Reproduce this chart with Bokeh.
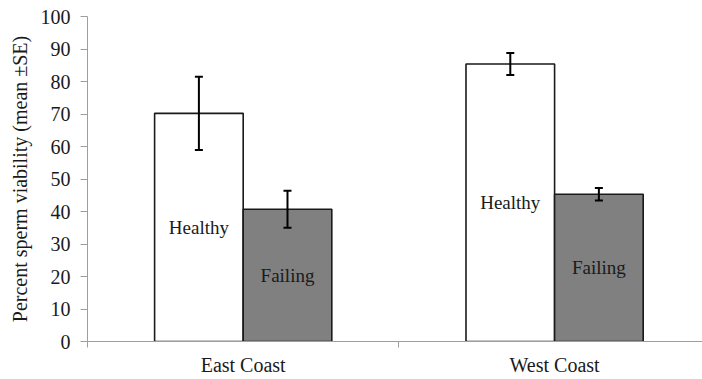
from bokeh.plotting import figure
from bokeh.models import (ColumnDataSource, Range1d, FixedTicker, Whisker, TeeHead)
from bokeh.core.properties import value
from bokeh.embed import file_html
from bokeh.resources import INLINE

# ---- data ----
categories = ["East Coast", "West Coast"]
groups = ["Healthy", "Failing"]
healthy_mean = [70.2, 85.4]
failing_mean = [40.7, 45.3]
healthy_se = [11.3, 3.4]
failing_se = [5.7, 1.9]
y_ticks = [0, 10, 20, 30, 40, 50, 60, 70, 80, 90, 100]
y_label = "Percent sperm viability (mean \u00b1SE)"

# ---- styling ----
FONT = "Liberation Serif"
TEXT = "#1a1a1a"
AXIS = "#9e9e9e"
fills = {"Healthy": "#ffffff", "Failing": "#808080"}
bar_w = 0.2845          # width of one bar in category units
x_end = 1.975           # visible part of the category axis

p = figure(width=702, height=379, output_backend="svg", toolbar_location=None,
           x_range=Range1d(0, x_end), y_range=Range1d(0, 100),
           min_border_left=87, min_border_right=0, min_border_top=16,
           min_border_bottom=38)
p.outline_line_color = None
p.xgrid.visible = False
p.ygrid.visible = False
p.background_fill_color = "white"
p.border_fill_color = "white"

offsets = {"Healthy": -bar_w / 2, "Failing": bar_w / 2}
series = {"Healthy": (healthy_mean, healthy_se), "Failing": (failing_mean, failing_se)}

for g in groups:
    means, ses = series[g]
    xs = [i + 0.5 + offsets[g] for i in range(len(categories))]
    src = ColumnDataSource(dict(
        x=xs, top=means, half=[m / 2 for m in means],
        upper=[m + s for m, s in zip(means, ses)],
        lower=[m - s for m, s in zip(means, ses)],
        label=[g] * len(categories)))
    p.vbar(x="x", top="top", bottom=0, width=bar_w, source=src,
           fill_color=fills[g], line_color="#1a1a1a", line_width=1.6)
    p.text(x="x", y="half", text="label", source=src,
           text_font=value(FONT), text_font_size="19px", text_color=TEXT,
           text_align="center", text_baseline="middle")
    w = Whisker(base="x", upper="upper", lower="lower", source=src,
                line_color="black", line_width=2, level="overlay",
                upper_head=TeeHead(size=8, line_width=2, line_color="black"),
                lower_head=TeeHead(size=8, line_width=2, line_color="black"))
    p.add_layout(w)

# x axis: labels at category centres, small ticks at category boundaries
xa = p.xaxis[0]
xa.ticker = FixedTicker(ticks=[i + 0.5 for i in range(len(categories))],
                        minor_ticks=list(range(len(categories) + 1)))
xa.major_label_overrides = {i + 0.5: c for i, c in enumerate(categories)}
xa.major_tick_out = 0
xa.major_tick_in = 0
xa.minor_tick_out = 6
xa.minor_tick_in = 0
xa.minor_tick_line_color = AXIS
xa.axis_line_color = AXIS
xa.major_label_text_font = FONT
xa.major_label_text_font_size = "20px"
xa.major_label_text_color = TEXT
xa.major_label_standoff = 6

ya = p.yaxis[0]
ya.ticker = FixedTicker(ticks=y_ticks, minor_ticks=[])
ya.major_tick_out = 7
ya.major_tick_in = 0
ya.major_tick_line_color = AXIS
ya.axis_line_color = AXIS
ya.major_label_text_font = FONT
ya.major_label_text_font_size = "20px"
ya.major_label_text_color = TEXT
ya.major_label_standoff = 10
ya.axis_label = y_label
ya.axis_label_text_font = FONT
ya.axis_label_text_font_size = "20px"
ya.axis_label_text_font_style = "normal"
ya.axis_label_text_color = TEXT
ya.axis_label_standoff = 7

open("out.html", "w").write(file_html(p, INLINE))
